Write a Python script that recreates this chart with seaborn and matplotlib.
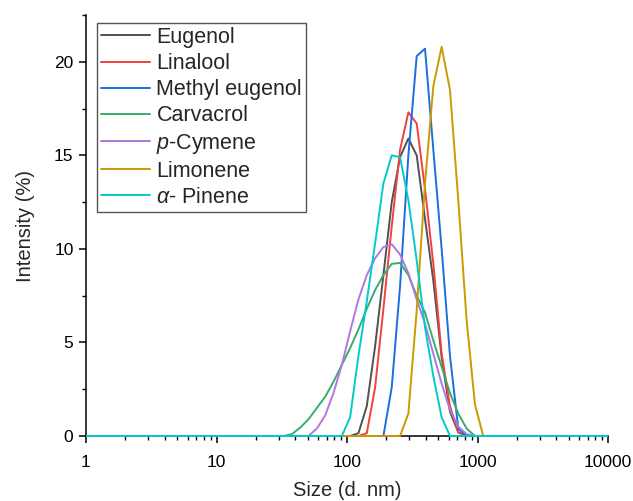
import numpy as np
import pandas as pd
import matplotlib
matplotlib.use("Agg")
import matplotlib.pyplot as plt
import matplotlib.patches as mpatches
import seaborn as sns
from matplotlib.ticker import LogLocator, MultipleLocator, NullFormatter

sizes = [0.4, 0.4632, 0.5365, 0.6213, 0.7195, 0.8332, 0.9649, 1.117, 1.294, 1.499,
         1.736, 2.01, 2.328, 2.696, 3.122, 3.615, 4.187, 4.849, 5.615, 6.503,
         7.531, 8.721, 10.1, 11.7, 13.54, 15.69, 18.17, 21.04, 24.36, 28.21,
         32.67, 37.84, 43.82, 50.75, 58.77, 68.06, 78.82, 91.28, 105.7, 122.4,
         141.8, 164.2, 190.1, 220.2, 255.0, 295.3, 342.0, 396.1, 458.7, 531.2,
         615.1, 712.4, 825.0, 955.4, 1106, 1281, 1484, 1718, 1990, 2305,
         2669, 3091, 3580, 4145, 4801, 5560, 6439, 7456, 8635, 10000]

Z29 = [0] * 29  # bins 0.4 .. 24.36 are all zero
Z14 = [0] * 14  # bins 1484 .. 10000 are all zero

#                 28.2 32.7 37.8 43.8 50.8 58.8 68.1 78.8 91.3 105.7 122.4 141.8 164.2 190.1 220.2 255.0 295.3 342.0 396.1 458.7 531.2 615.1 712.4 825.0 955.4 1106 1281
eugenol        = Z29 + [0, 0, 0, 0, 0, 0, 0, 0, 0, 0, 0.15, 1.6, 4.8, 8.6, 12.5, 14.9, 15.9, 15.0, 11.6, 8.3, 4.2, 1.3, 0.2, 0, 0, 0, 0] + Z14
linalool       = Z29 + [0, 0, 0, 0, 0, 0, 0, 0, 0, 0, 0, 0.15, 2.6, 6.8, 11.2, 15.3, 17.3, 16.7, 13.2, 9.2, 4.4, 1.6, 0.2, 0, 0, 0, 0] + Z14
methyl_eugenol = Z29 + [0, 0, 0, 0, 0, 0, 0, 0, 0, 0, 0, 0, 0, 0, 2.6, 8.0, 15.0, 20.3, 20.7, 15.3, 10.0, 4.3, 0.4, 0, 0, 0, 0] + Z14
carvacrol      = Z29 + [0, 0, 0.1, 0.45, 0.9, 1.5, 2.1, 2.9, 3.8, 4.7, 5.7, 6.8, 7.8, 8.6, 9.2, 9.25, 8.6, 7.5, 6.6, 5.1, 3.7, 2.3, 1.2, 0.4, 0, 0, 0] + Z14
p_cymene       = Z29 + [0, 0, 0, 0, 0, 0.4, 1.1, 2.3, 3.8, 5.6, 7.3, 8.6, 9.5, 10.1, 10.25, 9.7, 8.7, 7.3, 6.0, 4.4, 2.8, 1.4, 0.5, 0.1, 0, 0, 0] + Z14
limonene       = Z29 + [0, 0, 0, 0, 0, 0, 0, 0, 0, 0, 0, 0, 0, 0, 0, 0, 1.2, 6.7, 13.5, 18.7, 20.8, 18.5, 12.6, 6.2, 1.7, 0, 0] + Z14
alpha_pinene   = Z29 + [0, 0, 0, 0, 0, 0, 0, 0, 0, 1.0, 4.3, 7.2, 10.3, 13.5, 15.0, 14.9, 12.6, 9.4, 5.8, 3.2, 1.0, 0, 0, 0, 0, 0, 0] + Z14

labels = ["Eugenol", "Linalool", "Methyl eugenol", "Carvacrol",
          r"$\mathit{p}$-Cymene", "Limonene", r"$\mathit{\alpha}$- Pinene"]
series = [eugenol, linalool, methyl_eugenol, carvacrol, p_cymene, limonene, alpha_pinene]
colors = ["#515151", "#F14040", "#1A6FDF", "#37AD6B", "#B177DE", "#CC9900", "#00CBCC"]

rows = []
for lab, vals in zip(labels, series):
    for s, v in zip(sizes, vals):
        rows.append({"Size": s, "Intensity": v, "Sample": lab})
df = pd.DataFrame(rows)

sns.set_style("ticks")
plt.rcParams["font.family"] = ["Liberation Sans", "DejaVu Sans"]
plt.rcParams["mathtext.fontset"] = "custom"
plt.rcParams["mathtext.it"] = "Liberation Sans:italic"
plt.rcParams["mathtext.rm"] = "Liberation Sans"

fig = plt.figure(figsize=(6.33, 5.01), dpi=100)
ax = fig.add_axes([86 / 633, 65 / 501, (608 - 86) / 633, (436 - 15) / 501])

sns.lineplot(data=df, x="Size", y="Intensity", hue="Sample", palette=colors,
             hue_order=labels, ax=ax, linewidth=1.4, sort=False, estimator=None)

ax.set_xscale("log")
ax.set_xlim(1, 10000)
ax.set_ylim(0, 22.5)

clip_rect = mpatches.Rectangle((0, -0.02), 1, 1.04, transform=ax.transAxes,
                               facecolor="none", edgecolor="none")
ax.add_patch(clip_rect)
for ln in ax.get_lines():
    ln.set_clip_path(clip_rect)
    ln.set_zorder(5)

ax.xaxis.set_major_locator(LogLocator(base=10, numticks=10))
ax.xaxis.set_minor_locator(LogLocator(base=10, subs=np.arange(2, 10), numticks=10))
ax.xaxis.set_minor_formatter(NullFormatter())
ax.set_xticks([1, 10, 100, 1000, 10000])
ax.set_xticklabels(["1", "10", "100", "1000", "10000"])
ax.yaxis.set_major_locator(MultipleLocator(5))
ax.yaxis.set_minor_locator(MultipleLocator(2.5))

for sp in ["top", "right"]:
    ax.spines[sp].set_visible(False)
for sp in ["left", "bottom"]:
    ax.spines[sp].set_color("black")
    ax.spines[sp].set_linewidth(1.1)

ax.tick_params(axis="x", which="major", pad=9)
ax.tick_params(axis="y", which="major", pad=4)
ax.tick_params(axis="both", which="major", direction="out", length=5, width=1.1,
               labelsize=12.5, colors="black")
ax.tick_params(axis="both", which="minor", direction="out", length=3, width=1.0, colors="black")

ax.set_xlabel("Size (d. nm)", fontsize=14.5, labelpad=7.5)
ax.set_ylabel("Intensity (%)", fontsize=14.5, labelpad=14)

leg = ax.legend(loc="upper left", bbox_to_anchor=(11 / 522, 1 - 8 / 421), fontsize=15.5,
                frameon=True, fancybox=False, handlelength=2.3, handletextpad=0.28,
                labelspacing=0.24, borderpad=0.18, borderaxespad=0)
leg.get_frame().set_edgecolor("#555555")
leg.get_frame().set_linewidth(1.0)
leg.get_frame().set_alpha(1)
for h in leg.get_lines():
    h.set_linewidth(1.4)

fig.savefig("out.png", dpi=100)
